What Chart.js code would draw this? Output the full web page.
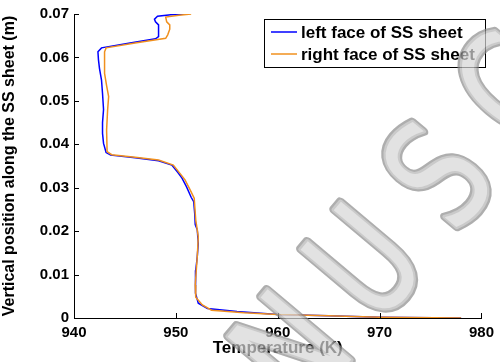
<!DOCTYPE html>
<html>
<head>
<meta charset="utf-8">
<script src="https://cdn.jsdelivr.net/npm/chart.js@4.4.0/dist/chart.umd.min.js"></script>
<style>
  html, body { margin: 0; padding: 0; background: #fff; }
</style>
</head>
<body>
<canvas id="tempChart" width="500" height="362"></canvas>
<script>
// temperature profile along the sheet height, read top to bottom
const leftFaceT = [951.2, 949.5, 948.2, 947.9, 948.0, 948.3, 948.3, 948.3, 948.0, 945.5,
  942.7, 942.35, 942.4, 942.5, 942.7, 942.8, 942.9, 942.8, 942.8, 942.9,
  943.15, 943.6, 946.0, 948.3, 949.6, 950.2, 950.6, 951.05, 951.5, 951.75,
  951.85, 951.9, 952.1, 952.2, 952.1, 951.95, 951.95, 951.9, 952.2, 953.1,
  956.0, 960.0, 965.0, 970.0, 978.0];
const leftFaceY = [0.0700, 0.0698, 0.0695, 0.0688, 0.0682, 0.0675, 0.0660, 0.0648, 0.0643, 0.0633,
  0.0622, 0.0613, 0.0595, 0.0575, 0.0548, 0.0517, 0.0480, 0.0450, 0.0425, 0.0402,
  0.0381, 0.0375, 0.0369, 0.0362, 0.0352, 0.0335, 0.0322, 0.0302, 0.0278, 0.0268,
  0.0240, 0.0215, 0.0203, 0.0172, 0.0141, 0.0110, 0.0087, 0.0057, 0.0034, 0.0022,
  0.0015, 0.0008, 0.0005, 0.0002, 0.0000];

const rightFaceT = [951.5, 950.3, 949.0, 949.1, 949.4, 949.4, 949.2, 949.0, 946.0, 943.15,
  943.0, 943.0, 943.0, 943.2, 943.4, 943.3, 943.2, 943.25, 943.7, 946.0,
  948.3, 949.75, 950.4, 950.9, 951.4, 951.8, 951.95, 952.2, 952.1, 951.9,
  951.95, 952.6, 953.5, 956.7, 960.0, 965.0, 970.0, 978.0];
const rightFaceY = [0.0700, 0.0697, 0.0693, 0.0682, 0.0675, 0.0665, 0.0652, 0.0644, 0.0633, 0.0622,
  0.0613, 0.0590, 0.0563, 0.0535, 0.0510, 0.0479, 0.0433, 0.0383, 0.0376, 0.0370,
  0.0364, 0.0352, 0.0333, 0.0318, 0.0295, 0.0276, 0.0226, 0.0187, 0.0141, 0.0076,
  0.0048, 0.0030, 0.0018, 0.0012, 0.0008, 0.0005, 0.0002, 0.0000];

const seriesLabels = ['left face of SS sheet', 'right face of SS sheet'];
const seriesColors = ['#0000ff', '#f0901e'];
const xTicks = [940, 950, 960, 970, 980];
const yTicks = [0, 0.01, 0.02, 0.03, 0.04, 0.05, 0.06, 0.07];
const stampText = 'MANUSCRIPT';

const FONT = 'Liberation Sans, Arial, sans-serif';

function toPoints(xs, ys) {
  return xs.map((x, i) => ({ x: x, y: ys[i] }));
}

// inward tick marks on the two axes
const innerTicks = {
  id: 'innerTicks',
  afterDraw(chart) {
    const c = chart.ctx;
    const xs = chart.scales.x, ys = chart.scales.y;
    const a = chart.chartArea;
    c.save();
    c.strokeStyle = '#000';
    c.lineWidth = 1;
    c.beginPath();
    xTicks.forEach(v => {
      const px = Math.round(xs.getPixelForValue(v)) + 0.5;
      c.moveTo(px, a.bottom);
      c.lineTo(px, a.bottom - 5);
    });
    yTicks.forEach(v => {
      const py = Math.round(ys.getPixelForValue(v)) + 0.5;
      c.moveTo(a.left, py);
      c.lineTo(a.left + 5, py);
    });
    c.stroke();
    c.restore();
  }
};

// boxed legend in the upper right corner
const boxLegend = {
  id: 'boxLegend',
  afterDraw(chart) {
    const c = chart.ctx;
    c.save();
    c.fillStyle = '#fff';
    c.fillRect(264, 19, 221, 48);
    c.strokeStyle = '#000';
    c.lineWidth = 1;
    c.strokeRect(264.5, 19.5, 221, 48);
    c.font = 'bold 17px ' + FONT;
    c.textBaseline = 'middle';
    c.textAlign = 'left';
    const rows = [32, 54];
    seriesLabels.forEach((lab, i) => {
      c.strokeStyle = seriesColors[i];
      c.lineWidth = 1.5;
      c.beginPath();
      c.moveTo(271, rows[i]);
      c.lineTo(297, rows[i]);
      c.stroke();
      c.fillStyle = '#000';
      c.fillText(lab, 301, rows[i] + 1);
    });
    c.restore();
  }
};

// translucent grey diagonal stamp laid over the finished plot
const stamp = {
  id: 'stamp',
  afterDraw(chart) {
    const w = chart.width, h = chart.height;
    const off = document.createElement('canvas');
    off.width = w;
    off.height = h;
    const o = off.getContext('2d');
    const ang = -50 * Math.PI / 180;
    const dx = Math.cos(ang), dy = Math.sin(ang);
    const step = 114;
    const uIndex = stampText.indexOf('U');
    for (let i = 0; i < stampText.length; i++) {
      const k = i - uIndex;
      o.save();
      o.translate(364 + dx * step * k, 262 + dy * step * k);
      o.rotate(ang);
      o.scale(0.75, 1);
      o.font = '150px DejaVu Sans';
      o.textAlign = 'center';
      o.textBaseline = 'middle';
      o.lineJoin = 'round';
      o.strokeStyle = '#8c8c8c';
      o.lineWidth = 10;
      o.strokeText(stampText[i], 0, 14);
      o.strokeStyle = '#b4b4b4';
      o.lineWidth = 5;
      o.strokeText(stampText[i], 0, 14);
      o.fillStyle = '#d6d6d6';
      o.fillText(stampText[i], 0, 14);
      o.restore();
    }
    const c = chart.ctx;
    c.save();
    c.globalAlpha = 0.7;
    c.drawImage(off, 0, 0);
    c.restore();
  }
};

const ctx = document.getElementById('tempChart').getContext('2d');

const chart = new Chart(ctx, {
  type: 'scatter',
  data: {
    datasets: [{
      label: seriesLabels[0],
      data: toPoints(leftFaceT, leftFaceY),
      borderColor: seriesColors[0],
      borderWidth: 1.5,
      showLine: true,
      pointRadius: 0,
      tension: 0,
      order: 2
    }, {
      label: seriesLabels[1],
      data: toPoints(rightFaceT, rightFaceY),
      borderColor: seriesColors[1],
      borderWidth: 1.5,
      showLine: true,
      pointRadius: 0,
      tension: 0,
      order: 1
    }]
  },
  options: {
    responsive: false,
    animation: false,
    layout: { padding: { left: 0, right: 12, top: 14, bottom: 0 } },
    plugins: {
      legend: { display: false },
      tooltip: { enabled: false }
    },
    scales: {
      x: {
        type: 'linear',
        min: 940,
        max: 980,
        afterBuildTicks: s => { s.ticks = xTicks.map(v => ({ value: v })); },
        afterFit: s => { s.height = 44; },
        ticks: {
          color: '#000',
          font: { family: FONT, size: 15, weight: 'bold' },
          padding: 6,
          maxRotation: 0
        },
        grid: { display: false, drawTicks: false },
        border: { display: true, color: '#000', width: 1 },
        title: {
          display: true,
          text: 'Temperature (K)',
          color: '#000',
          font: { family: FONT, size: 17, weight: 'bold' },
          padding: { top: 0, bottom: 3 }
        }
      },
      y: {
        type: 'linear',
        min: 0,
        max: 0.07,
        afterBuildTicks: s => { s.ticks = yTicks.map(v => ({ value: v })); },
        afterFit: s => { s.width = 74; },
        ticks: {
          color: '#000',
          font: { family: FONT, size: 15, weight: 'bold' },
          padding: 5,
          callback: v => v === 0 ? '0' : v.toFixed(2)
        },
        grid: { display: false, drawTicks: false },
        border: { display: true, color: '#000', width: 1 },
        title: {
          display: true,
          text: 'Vertical position along the SS sheet (m)',
          color: '#000',
          font: { family: FONT, size: 16, weight: 'bold' },
          padding: { top: 0, bottom: 0 }
        }
      }
    }
  },
  plugins: [innerTicks, boxLegend, stamp]
});
</script>
</body>
</html>
